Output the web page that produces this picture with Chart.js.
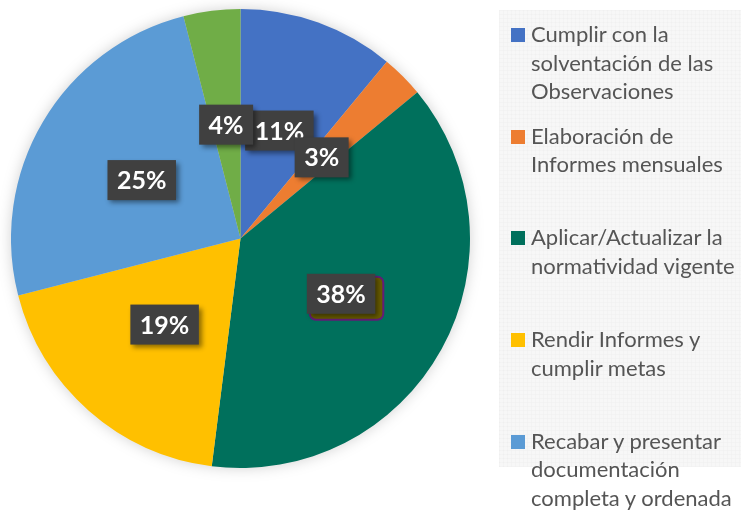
<!DOCTYPE html>
<html lang="es">
<head>
<meta charset="utf-8">
<script src="https://cdn.jsdelivr.net/npm/chart.js@4.4.1/dist/chart.umd.min.js"></script>
<style>
  html, body { margin: 0; padding: 0; }
  body {
    width: 741px; height: 515px; overflow: hidden; position: relative;
    background: #ffffff;
    font-family: Lato, "Open Sans", sans-serif;
  }
  #legendPanel {
    position: absolute; left: 499px; top: 10px; width: 242px; height: 457px;
    background-color: #f7f7f7;
    background-image:
      repeating-linear-gradient(0deg, rgba(0,0,0,0.015) 0 1px, transparent 1px 4px),
      repeating-linear-gradient(90deg, rgba(0,0,0,0.015) 0 1px, transparent 1px 4px);
  }
  #pieWrap {
    position: absolute; left: 11px; top: 9px; width: 459px; height: 459px;
    filter: drop-shadow(0 0 7px rgba(0,0,0,0.18));
  }
  #legend { position: absolute; left: 0; top: 0; width: 741px; height: 515px; }
  .item { position: absolute; left: 511px; }
  .swatch { position: absolute; left: 0; top: 8px; width: 14px; height: 14px; }
  .text {
    position: absolute; left: 20px; top: 0; white-space: nowrap;
    font-size: 22px; line-height: 28.5px; color: #555555;
  }
</style>
</head>
<body>
<div id="legendPanel"></div>
<div id="pieWrap"><canvas id="pie" width="459" height="459"></canvas></div>
<div id="legend"></div>
<script>
// Categories (legend text, one entry per line) and their shares in percent
const categories = [
  ["Cumplir con la", "solventación de las", "Observaciones"],
  ["Elaboración de", "Informes mensuales"],
  ["Aplicar/Actualizar la", "normatividad vigente"],
  ["Rendir Informes y", "cumplir metas"],
  ["Recabar y presentar", "documentación", "completa y ordenada"],
  ["Otras actividades"]
];
const shares = [11, 3, 38, 19, 25, 4];
const valueLabels = ["11%", "3%", "38%", "19%", "25%", "4%"];
const sliceColors = ["#4472C4", "#ED7D31", "#00705C", "#FFC000", "#5B9BD5", "#70AD47"];

// Highlighted label (drawn with an outlined backdrop)
const highlighted = [false, false, true, false, false, false];

// Dark callout boxes centred on each slice
const calloutPlugin = {
  id: "callouts",
  afterDatasetsDraw(chart) {
    const ctx = chart.ctx;
    const arcs = chart.getDatasetMeta(0).data;
    ctx.save();
    ctx.font = "bold 25px Lato, 'Open Sans', sans-serif";
    ctx.textAlign = "center";
    ctx.textBaseline = "middle";
    arcs.forEach((arc, i) => {
      const p = arc.tooltipPosition();
      const text = valueLabels[i];
      const w = ctx.measureText(text).width + 19;
      const h = 40;
      const x = p.x - w / 2, y = p.y - h / 2;
      if (highlighted[i]) {
        ctx.save();
        ctx.beginPath();
        ctx.roundRect(x + 3, y + 3, w + 5, h + 3, 6);
        ctx.fillStyle = "#6a5d00";
        ctx.fill();
        ctx.lineWidth = 2;
        ctx.strokeStyle = "#651c78";
        ctx.stroke();
        ctx.restore();
      }
      ctx.save();
      ctx.shadowColor = "rgba(0,0,0,0.45)";
      ctx.shadowBlur = 5;
      ctx.shadowOffsetX = 3;
      ctx.shadowOffsetY = 3;
      ctx.fillStyle = "#404040";
      ctx.fillRect(x, y, w, h);
      ctx.restore();
      ctx.fillStyle = "#ffffff";
      ctx.fillText(text, p.x, p.y + 1);
    });
    ctx.restore();
  }
};

new Chart(document.getElementById("pie"), {
  type: "pie",
  data: {
    labels: categories.map(c => c.join(" ")),
    datasets: [{
      data: shares,
      backgroundColor: sliceColors,
      borderWidth: 0
    }]
  },
  options: {
    responsive: false,
    animation: false,
    layout: { padding: 0 },
    plugins: {
      legend: { display: false },
      tooltip: { enabled: false }
    }
  },
  plugins: [calloutPlugin]
});

// Legend entries, stacked in equal slots down the right-hand panel
const legend = document.getElementById("legend");
categories.forEach((lines, i) => {
  const item = document.createElement("div");
  item.className = "item";
  item.style.top = (20 + i * 101.7) + "px";
  const sw = document.createElement("div");
  sw.className = "swatch";
  sw.style.background = sliceColors[i];
  const tx = document.createElement("div");
  tx.className = "text";
  tx.innerHTML = lines.join("<br>");
  item.appendChild(sw);
  item.appendChild(tx);
  legend.appendChild(item);
});
</script>
</body>
</html>
